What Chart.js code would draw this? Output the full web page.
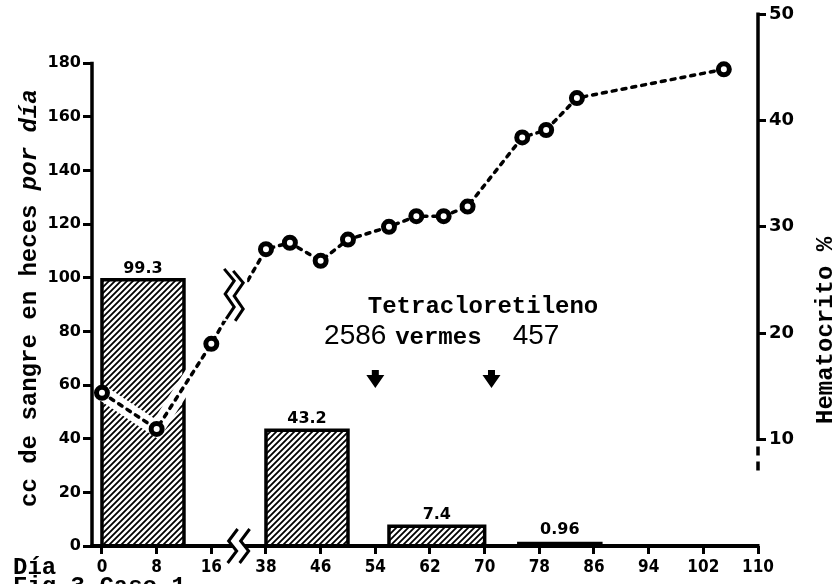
<!DOCTYPE html>
<html><head><meta charset="utf-8">
<script src="https://cdn.jsdelivr.net/npm/chart.js@4.4.0/dist/chart.umd.min.js"></script>
<style>html,body{margin:0;padding:0;background:#fff;overflow:hidden;}</style>
</head><body>
<canvas id="c" width="839" height="584" style="display:block;width:839px;height:584px"></canvas>
<script>
// ---- data ----
const xTickDays = [0, 8, 16, 38, 46, 54, 62, 70, 78, 86, 94, 102, 110];
const xTickLabels = ['0', '8', '16', '38', '46', '54', '62', '70', '78', '86', '94', '102', '110'];
const yLeftTicks = [0, 20, 40, 60, 80, 100, 120, 140, 160, 180];
const yRightTicks = [10, 20, 30, 40, 50];
const barStartDays = [0, 38, 56, 75];
const barEndDays = [12, 50, 70, 87];
const barValues = [99.3, 43.2, 7.4, 0.96];
const barLabels = ['99.3', '43.2', '7.4', '0.96'];
const hematocritoDays = [0, 8, 16, 38, 41.5, 46, 50, 56, 60, 64, 67.5, 75.5, 79, 83.5, 105];
const hematocritoValues = [14.4, 11.0, 19.0, 27.9, 28.5, 26.8, 28.8, 30.0, 31.0, 31.0, 31.9, 38.4, 39.1, 42.1, 44.8];
const arrowDays = [54, 71];

// broken time axis: days 16..38 are squeezed into one tick interval
const BREAK_FROM = 16, BREAK_TO = 38, BREAK_GAP = 8;
function axisPos(d) { return d <= BREAK_FROM ? d : d - (BREAK_TO - BREAK_FROM - BREAK_GAP); }

const canvas = document.getElementById('c');
const mainCtx = canvas.getContext('2d');
function makeHatch() {
  const t = document.createElement('canvas');
  t.width = 6; t.height = 6;
  const g = t.getContext('2d');
  g.strokeStyle = '#000'; g.lineWidth = 1.8;
  g.beginPath();
  g.moveTo(0, 6); g.lineTo(6, 0);
  g.moveTo(-3, 3); g.lineTo(3, -3);
  g.moveTo(3, 9); g.lineTo(9, 3);
  g.stroke();
  return mainCtx.createPattern(t, 'repeat');
}
const hatch = makeHatch();

const barDatasets = barValues.map((v, i) => ({
  type: 'line',
  data: [
    {x: axisPos(barStartDays[i]), y: 0},
    {x: axisPos(barStartDays[i]), y: v},
    {x: axisPos(barEndDays[i]), y: v},
    {x: axisPos(barEndDays[i]), y: 0}
  ],
  yAxisID: 'y',
  fill: 'origin',
  backgroundColor: hatch,
  borderColor: '#000',
  borderWidth: 3.5,
  borderJoinStyle: 'miter',
  pointRadius: 0,
  tension: 0,
  order: 3
}));

const hemPoints = hematocritoDays.map((d, i) => ({x: axisPos(d), y: hematocritoValues[i]}));

const haloDataset = {
  type: 'line', data: hemPoints, yAxisID: 'y2',
  borderColor: '#fff', borderWidth: 15, pointRadius: 0, fill: false, tension: 0, clip: false, order: 2
};
const hemDataset = {
  type: 'line', data: hemPoints, yAxisID: 'y2',
  borderColor: '#000', borderWidth: 3.5, borderDash: [4, 6], borderCapStyle: 'round',
  pointStyle: 'circle', pointRadius: 5.5, pointBorderWidth: 5,
  pointBackgroundColor: '#fff', pointBorderColor: '#000',
  fill: false, tension: 0, clip: false, order: 1
};

const MONO = '"Liberation Mono", "DejaVu Sans Mono", monospace';
const BOLD = '"DejaVu Sans", sans-serif';

const decor = {
  id: 'decor',
  afterDatasetsDraw(chart) {
    const {ctx, chartArea: a, scales: {x, y, y2}} = chart;
    ctx.save();
    ctx.strokeStyle = '#000';
    ctx.fillStyle = '#000';
    const y0 = y.getPixelForValue(0);

    // left axis line
    ctx.lineWidth = 3.5;
    ctx.beginPath();
    ctx.moveTo(a.left, y0 + 2);
    ctx.lineTo(a.left, y.getPixelForValue(180) - 1.5);
    ctx.stroke();

    // bottom axis line
    ctx.lineWidth = 4;
    ctx.beginPath();
    ctx.moveTo(a.left - 1.5, y0);
    ctx.lineTo(x.getPixelForValue(axisPos(110)) + 1.5, y0);
    ctx.stroke();

    // break on the time axis
    const bx = x.getPixelForValue(20);
    ctx.fillStyle = '#fff';
    ctx.fillRect(bx - 6, y0 - 3, 12, 6);
    ctx.fillStyle = '#000';
    ctx.lineWidth = 3;
    [bx - 6, bx + 6].forEach(cx => {
      ctx.beginPath();
      ctx.moveTo(cx + 5, y0 - 17);
      ctx.lineTo(cx - 4, y0 - 5);
      ctx.lineTo(cx + 4, y0 + 5);
      ctx.lineTo(cx - 5, y0 + 17);
      ctx.stroke();
    });

    // right axis line (solid 10..50, dashed below 10)
    const rx = a.right;
    ctx.lineWidth = 3.5;
    ctx.beginPath();
    ctx.moveTo(rx, y2.getPixelForValue(50) - 1.5);
    ctx.lineTo(rx, y2.getPixelForValue(10) + 1.5);
    ctx.stroke();
    ctx.setLineDash([9, 6]);
    ctx.beginPath();
    ctx.moveTo(rx, y2.getPixelForValue(10) + 7);
    ctx.lineTo(rx, y2.getPixelForValue(6.9));
    ctx.stroke();
    ctx.setLineDash([]);

    // break mark on the hematocrit curve
    const zx = x.getPixelForValue(19.2), zy = y2.getPixelForValue(23.6);
    ctx.fillStyle = '#fff';
    ctx.fillRect(zx - 10, zy - 24, 24, 50);
    ctx.fillStyle = '#000';
    ctx.lineWidth = 3;
    [[-9, -26], [0, -24]].forEach(([dx, dy]) => {
      const sx = zx + dx, sy = zy + dy;
      ctx.beginPath();
      ctx.moveTo(sx, sy);
      ctx.lineTo(sx + 10, sy + 12);
      ctx.lineTo(sx + 1, sy + 25);
      ctx.lineTo(sx + 10, sy + 38);
      ctx.lineTo(sx + 2, sy + 50);
      ctx.stroke();
    });

    // bar value labels
    ctx.font = 'bold 16px ' + BOLD;
    ctx.textAlign = 'center';
    ctx.textBaseline = 'bottom';
    barValues.forEach((v, i) => {
      const cx = (x.getPixelForValue(axisPos(barStartDays[i])) + x.getPixelForValue(axisPos(barEndDays[i]))) / 2;
      const ty = y.getPixelForValue(v) - (v < 2 ? 6 : 3);
      ctx.fillText(barLabels[i], cx, ty);
    });

    // treatment arrows
    arrowDays.forEach(d => {
      const ax = x.getPixelForValue(axisPos(d));
      const ay = y.getPixelForValue(65.6);
      ctx.beginPath();
      ctx.moveTo(ax - 3.5, ay);
      ctx.lineTo(ax + 3.5, ay);
      ctx.lineTo(ax + 3.5, ay + 5);
      ctx.lineTo(ax + 9, ay + 5);
      ctx.lineTo(ax, ay + 18);
      ctx.lineTo(ax - 9, ay + 5);
      ctx.lineTo(ax - 3.5, ay + 5);
      ctx.closePath();
      ctx.fill();
    });

    // annotation texts
    ctx.textAlign = 'left';
    ctx.textBaseline = 'alphabetic';
    ctx.font = 'bold 24px ' + MONO;
    ctx.fillText('Tetracloretileno', x.getPixelForValue(38.9), y.getPixelForValue(87));
    ctx.fillText('vermes', x.getPixelForValue(42.9), y.getPixelForValue(75.5));
    ctx.font = '28px "Liberation Sans", sans-serif';
    ctx.fillText('2586', x.getPixelForValue(32.5), y.getPixelForValue(75.5));
    ctx.fillText('457', x.getPixelForValue(60.1), y.getPixelForValue(75.5));

    // axis titles
    ctx.save();
    ctx.translate(30, 507);
    ctx.rotate(-Math.PI / 2);
    ctx.textBaseline = 'middle';
    ctx.font = 'bold 24px ' + MONO;
    const part1 = 'cc de sangre en heces ';
    ctx.fillText(part1, 0, 0);
    const w1 = ctx.measureText(part1).width;
    ctx.font = 'italic bold 24px ' + MONO;
    ctx.fillText('por día', w1, 0);
    ctx.restore();

    ctx.save();
    ctx.translate(826, 424);
    ctx.rotate(-Math.PI / 2);
    ctx.textBaseline = 'middle';
    ctx.font = 'bold 24px ' + MONO;
    ctx.fillText('Hematocrito %', 0, 0);
    ctx.restore();

    ctx.font = 'bold 24px ' + MONO;
    ctx.fillText('Día', 13, 574);
    ctx.font = 'bold 24px ' + MONO;
    ctx.fillText('Fig.3 Caso 1.', 13, 593);

    ctx.restore();
  }
};

new Chart(canvas, {
  type: 'line',
  data: {datasets: [hemDataset, haloDataset, ...barDatasets]},
  options: {
    responsive: false,
    animation: false,
    devicePixelRatio: 1,
    layout: {padding: {top: 14, left: 0, right: 0, bottom: 0}},
    plugins: {legend: {display: false}, tooltip: {enabled: false}},
    scales: {
      x: {
        type: 'linear', min: -1.46, max: axisPos(110),
        afterBuildTicks: s => { s.ticks = xTickDays.map(d => ({value: axisPos(d)})); },
        afterFit: s => { s.height = 38; },
        ticks: {
          autoSkip: false, maxRotation: 0, padding: 3, color: '#000',
          font: {family: '"DejaVu Sans Condensed", "DejaVu Sans", sans-serif', weight: 'bold', size: 17},
          callback: (v, i) => xTickLabels[i]
        },
        grid: {drawOnChartArea: false, drawTicks: true, tickLength: 8, color: '#000', lineWidth: 3},
        border: {display: false}
      },
      y: {
        type: 'linear', position: 'left', min: 0, max: 198.4,
        afterBuildTicks: s => { s.ticks = yLeftTicks.map(v => ({value: v})); },
        afterFit: s => { s.width = 92; },
        ticks: {padding: 2, color: '#000', font: {family: BOLD, weight: 'bold', size: 16}},
        grid: {drawOnChartArea: false, drawTicks: true, tickLength: 9, color: '#000', lineWidth: 3},
        border: {display: false}
      },
      y2: {
        type: 'linear', position: 'right', min: 0, max: 50,
        afterBuildTicks: s => { s.ticks = yRightTicks.map(v => ({value: v})); },
        afterFit: s => { s.width = 81; },
        ticks: {padding: 3, color: '#000', font: {family: BOLD, weight: 'bold', size: 18}},
        grid: {drawOnChartArea: false, drawTicks: true, tickLength: 8, color: '#000', lineWidth: 3},
        border: {display: false}
      }
    }
  },
  plugins: [decor]
});
</script>
</body></html>
